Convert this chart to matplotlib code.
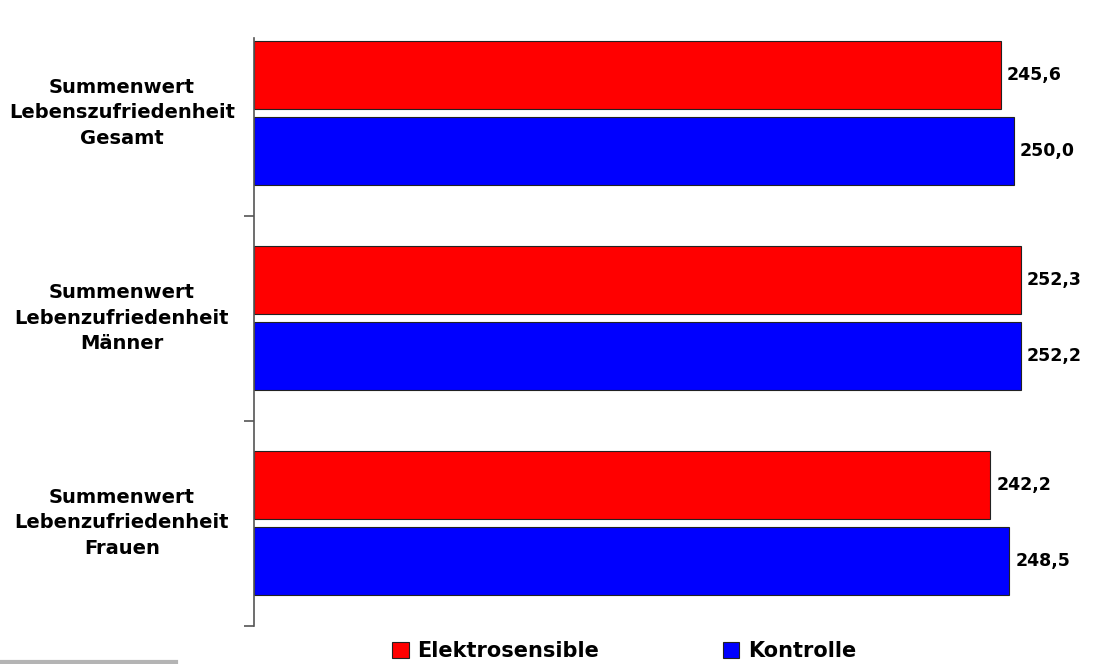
import matplotlib
matplotlib.use("Agg")
import matplotlib.pyplot as plt
from matplotlib.lines import Line2D
import numpy as np

categories = ["Summenwert\nLebenszufriedenheit\nGesamt",
              "Summenwert\nLebenzufriedenheit\nMänner",
              "Summenwert\nLebenzufriedenheit\nFrauen"]
series_names = ["Elektrosensible", "Kontrolle"]
elektro = [245.6, 252.3, 242.2]
kontrolle = [250.0, 252.2, 248.5]
colors = ["#ff0000", "#0000ff"]

W, H = 1095, 664
fig = plt.figure(figsize=(W / 100, H / 100), dpi=100)
plt.rcParams['font.family'] = ['DejaVu Sans']

ax_left, ax_right = 254, 1090
ax_top, ax_bot = 10.5, 625.5
ax = fig.add_axes([ax_left / W, 1 - ax_bot / H, (ax_right - ax_left) / W, (ax_bot - ax_top) / H])
xmax = (ax_right - ax_left) / 3.04
ax.set_xlim(0, xmax)
ax.set_ylim(2.5, -0.5)

y = np.arange(len(categories))
off = 0.185
h = 0.33
b1 = ax.barh(y - off, elektro, height=h, color=colors[0], edgecolor="#222222", linewidth=0.8, label=series_names[0])
b2 = ax.barh(y + off, kontrolle, height=h, color=colors[1], edgecolor="#222222", linewidth=0.8, label=series_names[1])

def fmt(v):
    return f"{v:.1f}".replace(".", ",")

for bars, vals in ((b1, elektro), (b2, kontrolle)):
    for rect, v in zip(bars, vals):
        ax.text(v + 2.0, rect.get_y() + rect.get_height() / 2, fmt(v), va="center", ha="left",
                fontsize=12.5, fontweight="bold", color="black")

for s in ("top", "right", "bottom"):
    ax.spines[s].set_visible(False)
top_data = -0.5 + (38 - ax_top) / (ax_bot - ax_top) * 3
ax.spines["left"].set_bounds(2.5, top_data)
ax.spines["left"].set_color("#555555")
ax.spines["left"].set_linewidth(1.2)
ax.set_xticks([])
ax.set_yticks([0.5, 1.5, 2.5])
ax.set_yticklabels([])
ax.tick_params(axis="y", direction="out", length=7, color="#555555", width=1.2)

for i, c in enumerate(categories):
    ax.text(-0.158, i, c, transform=ax.get_yaxis_transform(), ha="center", va="center",
            fontsize=14, fontweight="bold", linespacing=1.42)

leg = fig.legend(handles=[b1, b2], labels=series_names, loc="center", ncol=2,
                 bbox_to_anchor=(624 / W, 1 - 651 / H), frameon=False,
                 prop={"weight": "bold", "size": 15}, handlelength=0.8, handleheight=0.8,
                 handletextpad=0.4, columnspacing=5.95, borderaxespad=0)

fig.add_artist(Line2D([0, 176 / W], [1 - 661.5 / H, 1 - 661.5 / H], transform=fig.transFigure,
                      color="#b4b4b4", linewidth=3))

fig.savefig("out.png", dpi=100)
